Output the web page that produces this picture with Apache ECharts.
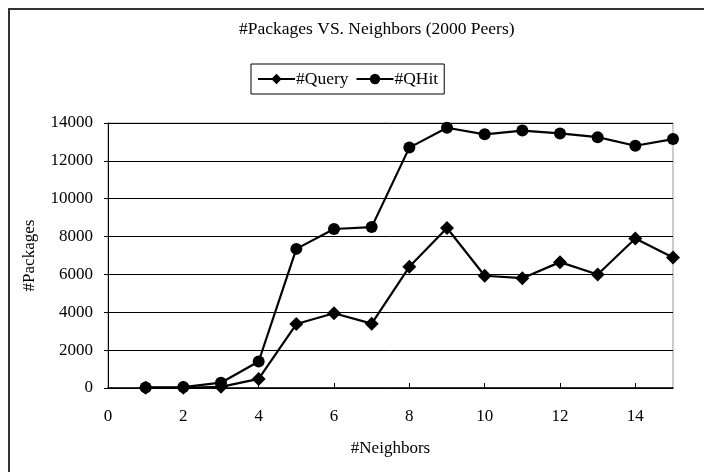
<!DOCTYPE html>
<html>
<head>
<meta charset="utf-8">
<script src="https://cdn.jsdelivr.net/npm/echarts@6/dist/echarts.min.js"></script>
<style>
  html, body { margin: 0; padding: 0; background: #fff; }
  #chart { width: 704px; height: 472px; }
</style>
</head>
<body>
<div id="chart"></div>
<script>
// Number of neighbors per peer
const neighbors = [1, 2, 3, 4, 5, 6, 7, 8, 9, 10, 11, 12, 13, 14, 15];
// Packages counted for each message type
const queryPackages = [10, 10, 60, 480, 3380, 3950, 3400, 6400, 8450, 5930, 5800, 6650, 6000, 7900, 6900];
const qhitPackages = [30, 50, 280, 1400, 7350, 8400, 8500, 12700, 13750, 13400, 13600, 13450, 13250, 12800, 13150];

const serif = '"Liberation Serif", "DejaVu Serif", serif';
const fs = 17;

const chart = echarts.init(document.getElementById('chart'));

function pairs(xs, ys) {
  return xs.map((x, i) => [x, ys[i]]);
}

chart.setOption({
  animation: false,
  backgroundColor: '#fff',
  textStyle: { fontFamily: serif, color: '#000' },
  graphic: [{
    type: 'rect',
    shape: { x: 9, y: 9, width: 730, height: 490 },
    style: { fill: 'none', stroke: '#333', lineWidth: 2 },
    silent: true
  }],
  title: {
    text: '#Packages VS. Neighbors (2000 Peers)',
    left: 239,
    top: 20,
    padding: 0,
    textStyle: { fontFamily: serif, fontSize: 17.5, fontWeight: 'normal', color: '#000' }
  },
  legend: {
    top: 64,
    left: 251,
    padding: [6, 6, 6, 6],
    borderColor: '#000',
    borderWidth: 1,
    itemGap: 7,
    itemWidth: 37,
    itemHeight: 13,
    textStyle: { fontFamily: serif, fontSize: 17.5, color: '#000', padding: [0, 0, 0, -4] },
    data: ['#Query', '#QHit']
  },
  grid: {
    left: 108, right: 31, top: 123, bottom: 84,
    show: true,
    borderColor: '#999',
    borderWidth: 1
  },
  xAxis: {
    type: 'value',
    min: 0, max: 15, interval: 2,
    name: '#Neighbors',
    nameLocation: 'middle',
    nameGap: 52,
    nameTextStyle: { fontFamily: serif, fontSize: fs, color: '#000' },
    axisLine: { lineStyle: { color: '#000', width: 1.5 } },
    axisTick: { inside: true, length: 5, lineStyle: { color: '#000' } },
    axisLabel: { showMaxLabel: false, margin: 20, fontFamily: serif, fontSize: fs, color: '#000' },
    splitLine: { show: false }
  },
  yAxis: {
    type: 'value',
    min: 0, max: 14000, interval: 2000,
    name: '#Packages',
    nameLocation: 'middle',
    nameGap: 70,
    nameTextStyle: { fontFamily: serif, fontSize: fs, color: '#000' },
    axisLine: { show: true, lineStyle: { color: '#000', width: 1 } },
    axisTick: { show: true, length: 4, lineStyle: { color: '#000' } },
    axisLabel: {
      margin: 15, fontFamily: serif, fontSize: fs, color: '#000',
      formatter: (v) => String(v)
    },
    splitLine: { show: true, lineStyle: { color: '#000', width: 1 } }
  },
  series: [
    {
      name: '#Query',
      type: 'line',
      data: pairs(neighbors, queryPackages),
      symbol: 'diamond',
      symbolSize: 14,
      lineStyle: { color: '#000', width: 2.2 },
      itemStyle: { color: '#000' }
    },
    {
      name: '#QHit',
      type: 'line',
      data: pairs(neighbors, qhitPackages),
      symbol: 'circle',
      symbolSize: 12,
      lineStyle: { color: '#000', width: 2.2 },
      itemStyle: { color: '#000' }
    }
  ]
});
</script>
</body>
</html>
